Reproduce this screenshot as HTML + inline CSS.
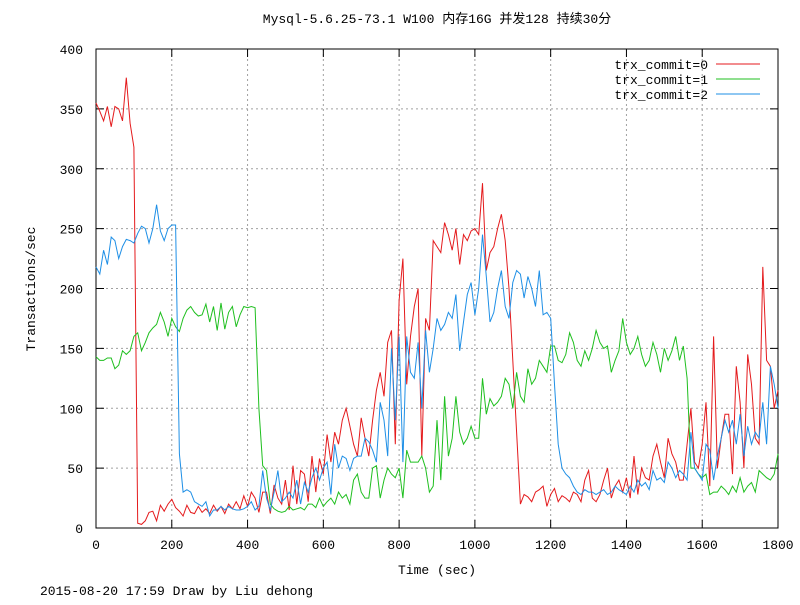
<!DOCTYPE html>
<html><head><meta charset="utf-8"><style>
body{margin:0;background:#fff}
svg text{font-family:"Liberation Mono","Noto Sans CJK SC",monospace;font-size:13px;fill:#000}
</style></head><body>
<svg id="chart" width="800" height="600" xmlns="http://www.w3.org/2000/svg">
<rect width="800" height="600" fill="#fff"/>
<text x="437" y="23" text-anchor="middle">Mysql-5.6.25-73.1 W100 内存16G 并发128 持续30分</text>
<g id="grid"></g>
<g id="axes"></g>
<g id="series"></g>
<text x="437" y="574" text-anchor="middle">Time (sec)</text>
<text transform="translate(35,289) rotate(-90)" text-anchor="middle">Transactions/sec</text>
<text x="40" y="595">2015-08-20 17:59 Draw by Liu dehong</text>
<g id="legend"></g>
</svg>
<script>
const xTicks=[0,200,400,600,800,1000,1200,1400,1600,1800];
const yTicks=[0,50,100,150,200,250,300,350,400];
const seriesNames=["trx_commit=0","trx_commit=1","trx_commit=2"];
const seriesColors=["#e41a1c","#1fbf1f","#1e8fe6"];
const sampleStep=10;
const trx0=[355,348,340,352,335,352,350,340,376,338,318,4,3,6,13,14,6,19,14,20,24,17,14,10,19,13,12,18,13,16,12,19,14,18,12,20,16,22,16,27,18,30,25,13,30,30,12,36,25,20,40,15,52,20,48,45,22,60,30,58,45,78,55,80,70,90,100,85,70,60,92,75,60,90,115,130,110,155,165,70,190,225,120,160,185,200,60,175,165,240,235,230,255,245,232,250,220,245,240,248,250,245,288,215,230,235,250,262,240,200,140,80,20,28,26,22,30,32,35,18,28,33,22,27,25,22,30,28,22,40,48,25,22,28,40,50,25,35,40,30,42,25,60,28,50,42,40,60,70,55,42,75,62,55,40,40,70,100,55,50,70,105,35,160,50,75,95,95,45,135,105,50,145,120,75,70,218,140,135,100,115];
const trx1=[143,140,140,142,142,133,136,148,145,148,160,163,148,155,163,167,170,180,172,160,175,168,164,175,182,185,180,177,178,187,172,185,165,188,166,180,185,168,178,185,184,185,184,100,52,48,20,16,14,13,14,18,15,16,17,15,20,20,17,25,18,22,25,20,30,25,28,20,40,45,30,25,25,50,52,25,40,50,45,42,50,25,65,55,55,55,60,50,30,35,90,40,110,60,75,110,80,70,75,85,75,75,125,95,108,102,105,110,125,120,100,130,110,105,133,120,125,140,135,130,152,152,140,138,145,163,155,140,135,148,140,150,165,155,150,152,130,140,148,175,155,145,150,160,145,135,140,155,145,130,150,140,148,160,140,152,125,50,50,45,42,45,28,30,30,35,32,28,35,30,42,30,35,38,30,48,45,42,40,45,62];
const trx2=[218,212,232,220,243,240,225,235,241,240,238,246,252,250,238,250,270,248,240,250,253,253,62,30,32,30,22,20,18,22,10,15,15,18,15,18,16,15,15,16,18,22,15,18,48,25,15,30,48,22,25,30,25,40,20,38,30,42,50,40,50,55,28,70,50,60,58,48,58,60,60,75,72,65,55,105,90,60,150,90,160,55,160,130,125,155,100,165,130,150,175,165,170,180,175,195,148,172,195,205,178,200,245,210,172,180,200,215,185,175,205,215,212,192,210,200,185,215,178,180,175,120,70,50,45,42,35,30,28,32,30,30,28,30,32,28,30,35,32,30,28,35,30,40,35,38,32,48,40,42,38,55,50,42,48,45,40,80,50,45,40,70,65,40,60,75,90,80,90,70,95,60,85,70,80,75,105,70,135,120,100];
const allSeries=[trx0,trx1,trx2];

const L=96,R=778,T=49,B=528,NS="http://www.w3.org/2000/svg";
const sx=v=>L+(v-0)/1800*(R-L);
const sy=v=>B-(v-0)/400*(B-T);
function mk(tag,attrs,parent){const e=document.createElementNS(NS,tag);for(const k in attrs)e.setAttribute(k,attrs[k]);parent.appendChild(e);return e;}
const grid=document.getElementById('grid'),axes=document.getElementById('axes'),ser=document.getElementById('series'),leg=document.getElementById('legend');
yTicks.forEach(v=>{
  if(v>0&&v<400){const g=mk('line',{x1:L,x2:R,y1:sy(v),y2:sy(v),stroke:'#a0a0a0','stroke-dasharray':'2,3','stroke-width':1},grid);
  
  }
  const t1=mk('line',{x1:L,x2:L+8,y1:sy(v),y2:sy(v),stroke:'#000'},axes);
  
  
  mk('line',{x1:R-8,x2:R,y1:sy(v),y2:sy(v),stroke:'#000'},axes);
  const t=mk('text',{x:83,y:sy(v)+5,'text-anchor':'end'},axes);t.textContent=v;
  
  
});
xTicks.forEach(v=>{
  if(v>0&&v<1800){const g=mk('line',{x1:sx(v),x2:sx(v),y1:T,y2:B,stroke:'#a0a0a0','stroke-dasharray':'2,3','stroke-width':1},grid);
  
  }
  const t1=mk('line',{x1:sx(v),x2:sx(v),y1:B-8,y2:B,stroke:'#000'},axes);
  
  
  mk('line',{x1:sx(v),x2:sx(v),y1:T,y2:T+8,stroke:'#000'},axes);
  const t=mk('text',{x:sx(v),y:549,'text-anchor':'middle'},axes);t.textContent=v;
  
  
});
const border=mk('rect',{x:L,y:T,width:R-L,height:B-T,fill:'none',stroke:'#000','stroke-width':1},axes);


allSeries.forEach((arr,si)=>{
  const pts=arr.map((v,i)=>sx(i*sampleStep).toFixed(1)+','+sy(v).toFixed(1)).join(' ');
  const p=mk('polyline',{points:pts,fill:'none',stroke:seriesColors[si],'stroke-width':1},ser);
  
  
  const y=64+si*15;
  const lt=mk('text',{x:708,y:y+5,'text-anchor':'end'},leg);lt.textContent=seriesNames[si];
  
  
  const ll=mk('line',{x1:716,x2:760,y1:y,y2:y,stroke:seriesColors[si]},leg);
  
  
});
</script>
</body></html>
